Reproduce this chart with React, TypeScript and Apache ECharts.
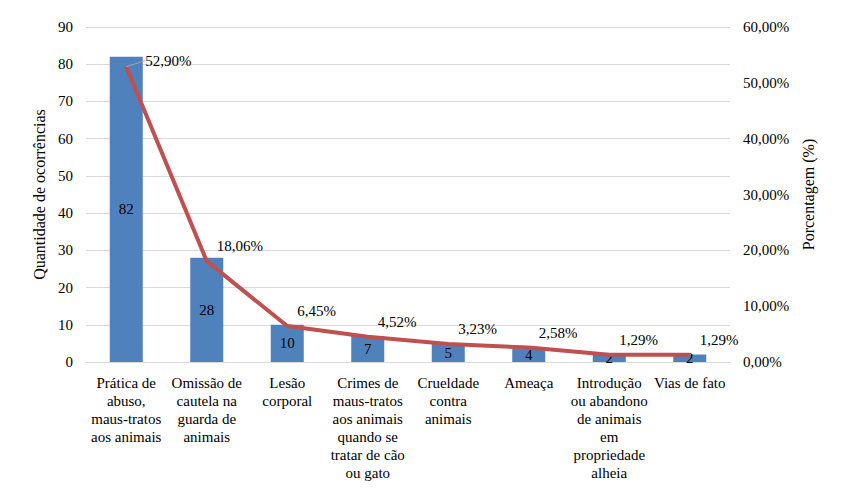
import React, { useEffect, useRef } from "react";
import * as echarts from "echarts";

const categories = [
  "Prática de\nabuso,\nmaus-tratos\naos animais",
  "Omissão de\ncautela na\nguarda de\nanimais",
  "Lesão\ncorporal",
  "Crimes de\nmaus-tratos\naos animais\nquando se\ntratar de cão\nou gato",
  "Crueldade\ncontra\nanimais",
  "Ameaça",
  "Introdução\nou abandono\nde animais\nem\npropriedade\nalheia",
  "Vias de fato",
];
const occurrences = [82, 28, 10, 7, 5, 4, 2, 2];
const percentages = [52.9, 18.06, 6.45, 4.52, 3.23, 2.58, 1.29, 1.29];

const FONT = "Liberation Serif";
const fmtPct = (v: number) => v.toFixed(2).replace(".", ",") + "%";

export default function App() {
  const ref = useRef<HTMLDivElement>(null);
  useEffect(() => {
    if (!ref.current) return;
    const chart = echarts.init(ref.current, undefined, { renderer: "svg" });
    const lineData = percentages.map((v, i) =>
      i === 0 ? { value: v, labelLine: { show: true } } : { value: v, labelLine: { show: false } }
    );
    chart.setOption({
      animation: false,
      textStyle: { fontFamily: FONT, color: "#000" },
      grid: { left: 86, right: 133, top: 27, bottom: 136 },
      xAxis: {
        type: "category",
        data: categories,
        axisLine: { show: true, lineStyle: { color: "#D9D9D9" } },
        axisTick: { show: false },
        axisLabel: {
          interval: 0,
          margin: 12,
          fontFamily: FONT,
          fontSize: 15,
          lineHeight: 18,
          color: "#000",
          verticalAlign: "top",
        },
      },
      yAxis: [
        {
          type: "value",
          min: 0,
          max: 90,
          interval: 10,
          name: "Quantidade de ocorrências",
          nameLocation: "middle",
          nameGap: 23,
          nameTextStyle: { fontFamily: FONT, fontSize: 16, color: "#000" },
          axisLine: { show: false },
          axisTick: { show: false },
          axisLabel: { margin: 13, fontFamily: FONT, fontSize: 15, color: "#000" },
          splitLine: { show: true, lineStyle: { color: "#D9D9D9" } },
        },
        {
          type: "value",
          min: 0,
          max: 60,
          interval: 10,
          name: "Porcentagem (%)",
          nameLocation: "middle",
          nameGap: 62,
          nameTextStyle: { fontFamily: FONT, fontSize: 16, color: "#000" },
          axisLine: { show: false },
          axisTick: { show: false },
          axisLabel: {
            margin: 13,
            fontFamily: FONT,
            fontSize: 15,
            color: "#000",
            formatter: (v: number) => fmtPct(v),
          },
          splitLine: { show: false },
        },
      ],
      series: [
        {
          type: "bar",
          data: occurrences,
          barWidth: 33,
          itemStyle: { color: "#4F81BD" },
          label: {
            show: true,
            position: "inside",
            fontFamily: FONT,
            fontSize: 15,
            color: "#000",
          },
        },
        {
          type: "line",
          yAxisIndex: 1,
          data: lineData,
          symbol: "circle",
          symbolSize: 0,
          showSymbol: true,
          itemStyle: { color: "#C0504D" },
          lineStyle: { color: "#C0504D", width: 4 },
          label: {
            show: true,
            position: "right",
            distance: 5,
            fontFamily: FONT,
            fontSize: 15,
            color: "#000",
            formatter: (p: any) => fmtPct(p.value),
          },
          labelLine: { show: false, lineStyle: { color: "#A6A6A6", width: 1 } },
          labelLayout: (params: any) =>
            params.dataIndex === 0 ? { dx: 14, dy: -6 } : { dx: 5, dy: -15 },
          z: 3,
        },
      ],
    });
    return () => chart.dispose();
  }, []);
  return (
    <div
      ref={ref}
      style={{ position: "absolute", left: 0, top: 0, width: 863, height: 498, background: "#fff" }}
    />
  );
}
